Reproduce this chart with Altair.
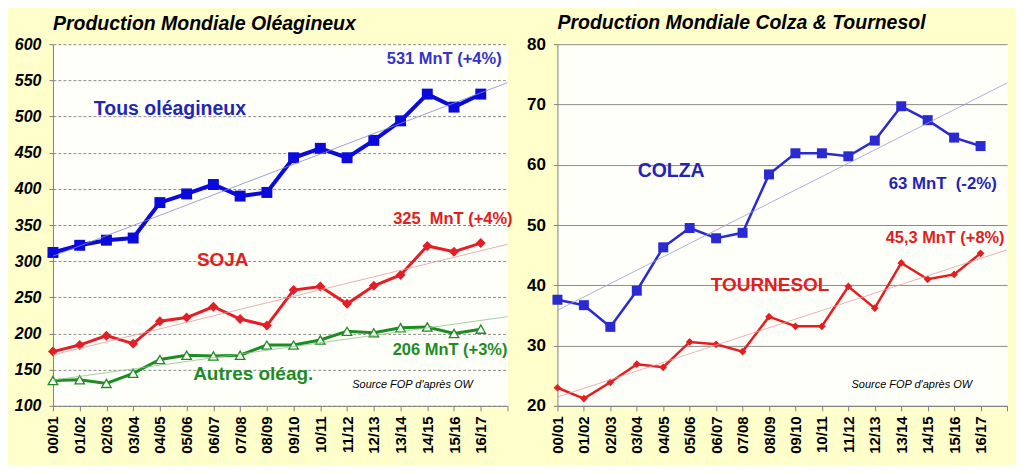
import altair as alt
import pandas as pd

# ---------------- data ----------------
campagnes = ["00/01", "01/02", "02/03", "03/04", "04/05", "05/06", "06/07", "07/08", "08/09",
             "09/10", "10/11", "11/12", "12/13", "13/14", "14/15", "15/16", "16/17"]

tous_oleagineux = [312, 322, 329, 332, 381, 393, 406, 390, 395, 443, 456, 443, 467, 494, 531, 513, 531]
soja = [175, 184, 197, 186, 217, 222, 237, 220, 211, 260, 265, 241, 266, 281, 321, 313, 325]
autres_oleag = [135, 136, 131, 145, 164, 170, 169, 170, 184, 184, 191, 203, 201, 208, 209, 200, 206]

colza = [37.6, 36.7, 33.1, 39.1, 46.3, 49.5, 47.8, 48.7, 58.4, 61.9, 61.9, 61.4, 64.0, 69.7, 67.4, 64.5, 63.1]
tournesol = [23.0, 21.2, 23.9, 26.9, 26.4, 30.6, 30.2, 29.0, 34.8, 33.2, 33.2, 39.8, 36.2, 43.7, 41.0, 41.8, 45.3]

left_ticks = [100, 150, 200, 250, 300, 350, 400, 450, 500, 550, 600]
right_ticks = [20, 30, 40, 50, 60, 70, 80]

# ---------------- helpers ----------------
FONT = "Liberation Sans"
N = len(campagnes)
label_expr = "[" + ",".join("'%s'" % c for c in campagnes) + "][datum.value] || ''"
X_SCALE = alt.Scale(domain=[0, N], nice=False, zero=False)
X_AXIS = alt.Axis(values=list(range(N + 1)), labelExpr=label_expr, labelAngle=270,
                  grid=False, title=None, labelFont=FONT, labelFontSize=15,
                  labelFontWeight="bold", labelColor="black", tickSize=5, labelPadding=5,
                  domainColor="#808080", tickColor="#808080", labelOverlap=False,
                  labelFlush=False)


def make_y(domain, ticks, italic, dash, fsize):
    sc = alt.Scale(domain=domain, nice=False, zero=False)
    ax = dict(values=ticks, grid=True, gridColor="#8c8c8c", gridWidth=1, title=None,
              labelFont=FONT, labelFontSize=fsize, labelFontWeight="bold", labelColor="black",
              tickSize=4, labelPadding=8, domainColor="#808080", tickColor="#808080",
              labelOverlap=False, labelFlush=False)
    if italic:
        ax["labelFontStyle"] = "italic"
    if dash:
        ax["gridDash"] = dash
    return sc, alt.Axis(**ax)


def series(vals, color, width, shape, size, trend_color, ysa, hollow=False):
    ysc, yax = ysa
    df = pd.DataFrame({"idx": list(range(N)), "campagne": campagnes, "value": vals})
    enc = dict(x=alt.X("idx:Q", scale=X_SCALE, axis=X_AXIS),
               y=alt.Y("value:Q", scale=ysc, axis=yax))
    base = alt.Chart(df).encode(**enc)
    line = base.mark_line(color=color, strokeWidth=width)
    if hollow:
        pts = base.mark_point(shape=shape, size=size, filled=True, fill="white",
                              stroke=color, strokeWidth=1.3, opacity=1)
    else:
        pts = base.mark_point(shape=shape, size=size, filled=True, color=color, opacity=1)
    trend = (alt.Chart(df)
             .transform_regression("idx", "value", extent=[0, N])
             .mark_line(color=trend_color, strokeWidth=0.8)
             .encode(**enc))
    return [line, pts], trend


def note(text, x, y, color, size, ysa, align="center", italic=False, bold=True):
    ysc, yax = ysa
    kw = dict(text=text, align=align, baseline="middle", font=FONT, fontSize=size, color=color)
    if bold:
        kw["fontWeight"] = "bold"
    if italic:
        kw["fontStyle"] = "italic"
    return (alt.Chart(pd.DataFrame({"a": [0]}))
            .mark_text(**kw)
            .encode(x=alt.XDatum(x, scale=X_SCALE, axis=X_AXIS),
                    y=alt.YDatum(y, scale=ysc, axis=yax)))


def title(text):
    return alt.TitleParams(text=text, anchor="start", frame="group", font=FONT, fontSize=19.5,
                           fontStyle="italic", fontWeight="bold", color="black", offset=2)


NB = "\u00a0"

# ---------------- left panel ----------------
yl = make_y([100, 600], left_ticks, True, [3, 2], 16)
l1, t1 = series(tous_oleagineux, "#0A0ADC", 4, "square", 120, "#8888CC", yl)
l2, t2 = series(soja, "#E41E26", 3, "diamond", 100, "#E39A9A", yl)
l3, t3 = series(autres_oleag, "#1E8C23", 3, "triangle-up", 90, "#8FBF8F", yl, hollow=True)

left_notes = [
    note("531 MnT (+4%)", 16.78, 579.3, "#3434C8", 16.5, yl, align="right"),
    note("Tous oléagineux", 1.53, 510.2, "#1E28B4", 19.5, yl, align="left"),
    note("325" + NB + " MnT (+4%)", 17.19, 358.3, "#E02020", 16.5, yl, align="right"),
    note("SOJA", 6.35, 301.7, "#E02020", 19, yl),
    note("206 MnT (+3%)", 17.0, 176.7, "#1E8C23", 16.5, yl, align="right"),
    note("Autres oléag.", 7.49, 144.2, "#1E8C23", 19, yl),
    note("Source FOP d'après OW", 13.45, 128.3, "black", 11, yl, italic=True, bold=False),
]

left = alt.layer(*(l1 + l2 + l3), t1, t2, t3, *left_notes).properties(
    width=455, height=362, title=title("Production Mondiale Oléagineux"))

# ---------------- right panel ----------------
yr = make_y([20, 80], right_ticks, False, None, 17)
r1, rt1 = series(colza, "#2A2AD2", 2.5, "square", 100, "#9A9AD8", yr)
r2, rt2 = series(tournesol, "#E41E1E", 2.5, "diamond", 60, "#E6A0A0", yr)

right_notes = [
    note("COLZA", 4.30, 58.9, "#2424B4", 19.5, yr),
    note("63 MnT" + NB + " (-2%)", 14.57, 56.8, "#2424B4", 16.8, yr),
    note("45,3 MnT (+8%)", 14.66, 47.85, "#E02020", 16.4, yr),
    note("TOURNESOL", 8.04, 40.1, "#E02020", 19, yr),
    note("Source FOP d'après OW", 13.4, 23.4, "black", 11, yr, italic=True, bold=False),
]

right = alt.layer(*(r1 + r2), rt1, rt2, *right_notes).properties(
    width=450, height=362, title=title("Production Mondiale Colza & Tournesol"))

chart = (alt.hconcat(left, right, spacing=50, bounds="flush")
         .configure(background="#FFFFCC",
                    padding={"left": 5, "top": 4, "right": 0, "bottom": 10})
         .configure_view(fill="#FFFFFA", stroke="transparent"))

chart.save("out.html", embed_options={"renderer": "svg", "actions": False})
